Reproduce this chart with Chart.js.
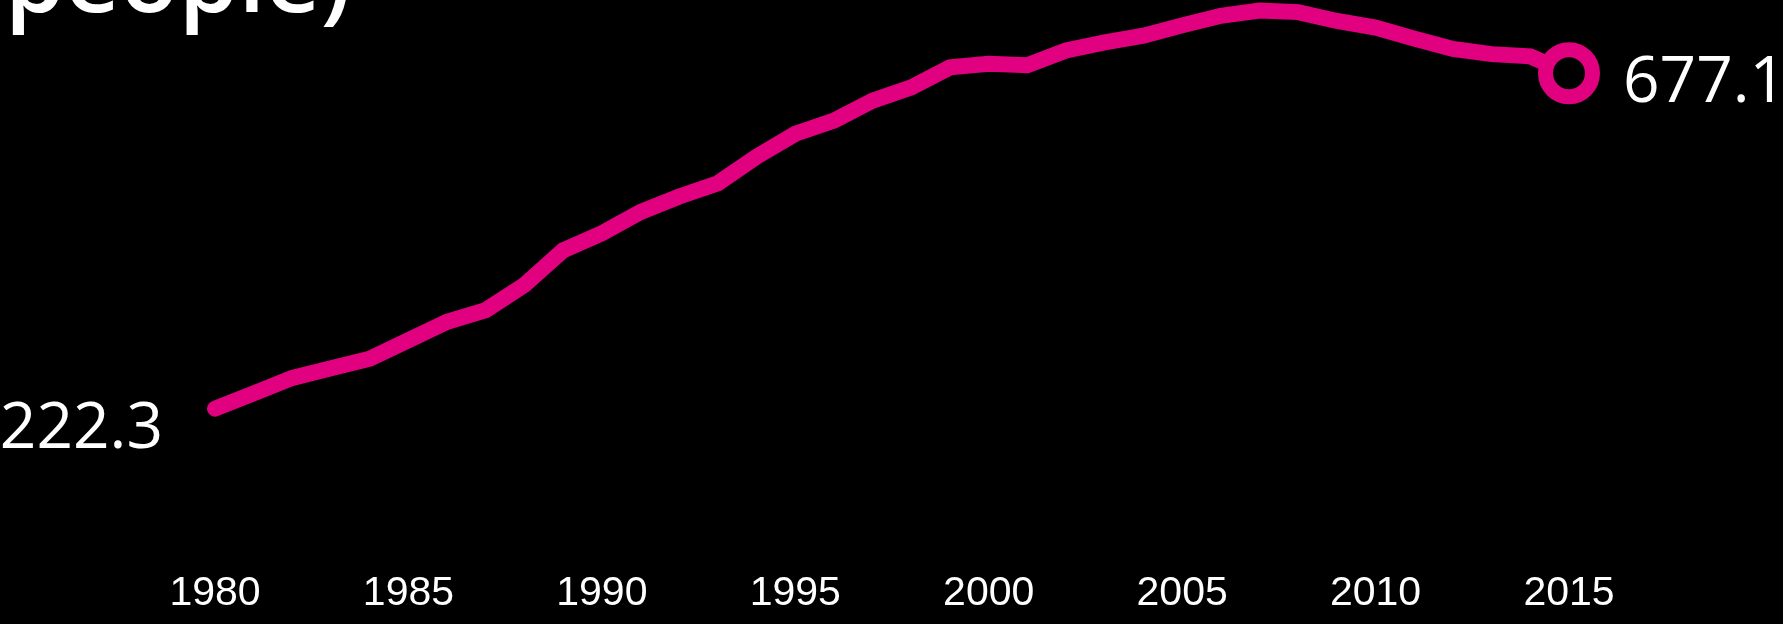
<!DOCTYPE html>
<html>
<head>
<meta charset="utf-8">
<script src="https://cdn.jsdelivr.net/npm/chart.js@4.4.0/dist/chart.umd.min.js"></script>
<style>
  html, body { margin: 0; padding: 0; background: #000; overflow: hidden; }
  #wrap { width: 1783px; height: 624px; }
</style>
</head>
<body>
<div id="wrap"><canvas id="rateChart" width="1783" height="624"></canvas></div>
<script>
// values (per 100,000 people)
const years = [1980, 1981, 1982, 1983, 1984, 1985, 1986, 1987, 1988, 1989,
               1990, 1991, 1992, 1993, 1994, 1995, 1996, 1997, 1998, 1999,
               2000, 2001, 2002, 2003, 2004, 2005, 2006, 2007, 2008, 2009,
               2010, 2011, 2012, 2013, 2014, 2015];
const rates = [222.3, 243, 264, 277, 290, 315, 340, 356, 390, 437,
               460, 489, 510, 528, 564, 595, 613, 640, 658, 685,
               690, 688, 708, 719, 728, 742, 755, 762, 760, 748,
               739, 724, 710, 703, 700, 677.1];
const tickYears = [1980, 1985, 1990, 1995, 2000, 2005, 2010, 2015];
const titleText = 'people)';

const lineColor = '#e1007f';
const lastIdx = rates.length - 1;

// title line (only its lower part is inside the picture) + end labels
const textPlugin = {
  id: 'textPlugin',
  afterDatasetsDraw(chart) {
    const ctx = chart.ctx;
    const pts = chart.getDatasetMeta(0).data;
    ctx.save();
    ctx.fillStyle = '#ffffff';
    ctx.textBaseline = 'alphabetic';

    ctx.font = '600 96px "Open Sans"';
    ctx.textAlign = 'left';
    ctx.fillText(titleText, 5, 12);

    ctx.font = '64px "Open Sans"';
    const first = pts[0];
    ctx.textAlign = 'right';
    ctx.fillText(rates[0].toFixed(1), first.x - 52, first.y + 39);

    const last = pts[lastIdx];
    ctx.textAlign = 'left';
    ctx.fillText(rates[lastIdx].toFixed(1), last.x + 54, last.y + 29);
    ctx.restore();
  }
};

const ctx = document.getElementById('rateChart').getContext('2d');
new Chart(ctx, {
  type: 'line',
  data: {
    datasets: [{
      data: years.map((yr, i) => ({ x: yr, y: rates[i] })),
      borderColor: lineColor,
      borderWidth: 16,
      borderCapStyle: 'round',
      tension: 0,
      clip: false,
      pointRadius: rates.map((_, i) => i === lastIdx ? 23.5 : 0),
      pointBorderWidth: 15,
      pointBorderColor: lineColor,
      pointBackgroundColor: '#000000',
      pointHoverRadius: 0
    }]
  },
  options: {
    responsive: false,
    animation: false,
    devicePixelRatio: 1,
    layout: {
      autoPadding: false,
      padding: { left: 215, right: 214, top: 0, bottom: 0 }
    },
    scales: {
      x: {
        type: 'linear',
        min: 1980,
        max: 2015,
        afterBuildTicks: axis => {
          axis.ticks = tickYears.map(v => ({ value: v }));
        },
        grid: { display: false, drawTicks: false },
        border: { display: false },
        ticks: {
          color: '#ffffff',
          padding: 6,
          maxRotation: 0,
          autoSkip: false,
          font: { family: '"Liberation Sans", Arial, sans-serif', size: 41 },
          callback: v => String(v)
        }
      },
      y: {
        display: false,
        min: 13.3,
        max: 776.4
      }
    },
    plugins: {
      legend: { display: false },
      title: { display: false },
      tooltip: { enabled: false }
    }
  },
  plugins: [textPlugin]
});
</script>
</body>
</html>
